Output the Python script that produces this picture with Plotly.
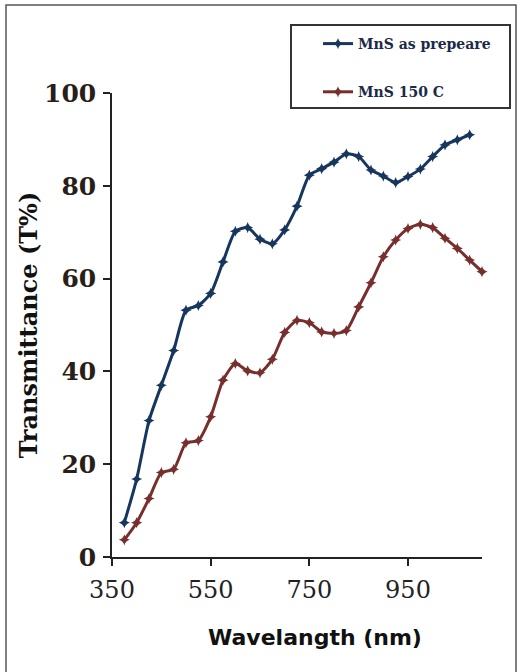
import plotly.graph_objects as go

# ---- data ----
wl_asprep = [375, 400, 425, 450, 475, 500, 525, 550, 575, 600, 625, 650, 675, 700,
             725, 750, 775, 800, 825, 850, 875, 900, 925, 950, 975, 1000, 1025, 1050, 1075]
t_asprep = [7.4, 16.8, 29.4, 37.0, 44.5, 53.2, 54.2, 56.8, 63.6, 70.2, 71.0, 68.5, 67.5, 70.5,
            75.6, 82.3, 83.7, 85.1, 86.9, 86.3, 83.4, 82.1, 80.7, 82.0, 83.6, 86.3, 88.8, 89.9, 91.0]

wl_150 = [375, 400, 425, 450, 475, 500, 525, 550, 575, 600, 625, 650, 675, 700, 725,
          750, 775, 800, 825, 850, 875, 900, 925, 950, 975, 1000, 1025, 1050, 1075, 1100]
t_150 = [3.7, 7.4, 12.6, 18.2, 18.9, 24.6, 25.1, 30.2, 38.1, 41.7, 40.1, 39.7, 42.6, 48.4, 51.0,
         50.5, 48.5, 48.2, 48.8, 53.9, 59.1, 64.7, 68.3, 70.8, 71.7, 71.0, 68.7, 66.5, 64.0, 61.5]

x_ticks = [350, 550, 750, 950]
y_ticks = [0, 20, 40, 60, 80, 100]
names = ["MnS as prepeare", "MnS 150 C"]
colors = ["#17365D", "#772F2D"]

# ---- geometry (pixels) ----
W, H = 521, 672
L, R, T, B = 112, 39, 93, 115
pw, ph = W - L - R, H - T - B

def px_x(p):
    return (p - L) / pw

def px_y(p):
    return (H - B - p) / ph

fig = go.Figure()
for wl, t, name, c, grp in [(wl_asprep, t_asprep, names[0], colors[0], "a"),
                            (wl_150, t_150, names[1], colors[1], "b")]:
    fig.add_trace(go.Scatter(
        x=wl, y=t, name=name, mode="lines+markers", legendgroup=grp,
        line=dict(color=c, width=3, shape="spline", smoothing=0.6),
        marker=dict(symbol="star-diamond", size=8, color=c),
        cliponaxis=False,
    ))

serif = "DejaVu Serif, Liberation Serif, serif"

fig.update_layout(
    width=W, height=H,
    margin=dict(l=L, r=R, t=T, b=B, autoexpand=False),
    paper_bgcolor="white", plot_bgcolor="white",
    showlegend=True,
    legend=dict(
        x=px_x(318), y=px_y(28), xanchor="left", yanchor="top",
        bgcolor="rgba(0,0,0,0)", borderwidth=0,
        font=dict(family=serif, size=14, color="#1b2a48", weight="bold"),
        tracegroupgap=27,
    ),
    xaxis=dict(
        range=[350, 1100], tickvals=x_ticks, ticktext=[str(v) for v in x_ticks],
        showgrid=False, zeroline=False, showline=True, linecolor="#222", linewidth=1.5,
        ticks="outside", ticklen=7, tickwidth=1.5, tickcolor="#222",
        tickfont=dict(family=serif, size=24, color="#222"),
        ticklabelstandoff=3,
    ),
    yaxis=dict(
        range=[0, 100], tickvals=y_ticks,
        showgrid=False, zeroline=False, showline=True, linecolor="#222", linewidth=1.5,
        ticks="outside", ticklen=7, tickwidth=1.5, tickcolor="#222",
        tickfont=dict(family=serif, size=25, color="#2a1f18", weight="bold"),
        ticklabelstandoff=2,
        title=dict(text="Transmittance (T%)", standoff=0,
                   font=dict(family=serif, size=24, color="#111", weight="bold")),
    ),
    annotations=[dict(
        text="<b>Wavelangth (nm)</b>", xref="paper", yref="paper",
        x=px_x(315), y=px_y(637), xanchor="center", yanchor="middle",
        showarrow=False, font=dict(family="DejaVu Sans, Verdana, sans-serif", size=22, color="#111"),
    )],
    shapes=[
        dict(type="rect", xref="paper", yref="paper",
             x0=px_x(6), x1=px_x(516), y0=px_y(690), y1=px_y(5),
             line=dict(color="#555", width=1.5), layer="below"),
        dict(type="rect", xref="paper", yref="paper",
             x0=px_x(291), x1=px_x(510), y0=px_y(108), y1=px_y(25),
             line=dict(color="#333", width=2), fillcolor="rgba(0,0,0,0)"),
    ],
)

fig.write_html("out.html", config={"displayModeBar": False},
               post_script="document.body.style.margin='0';")
